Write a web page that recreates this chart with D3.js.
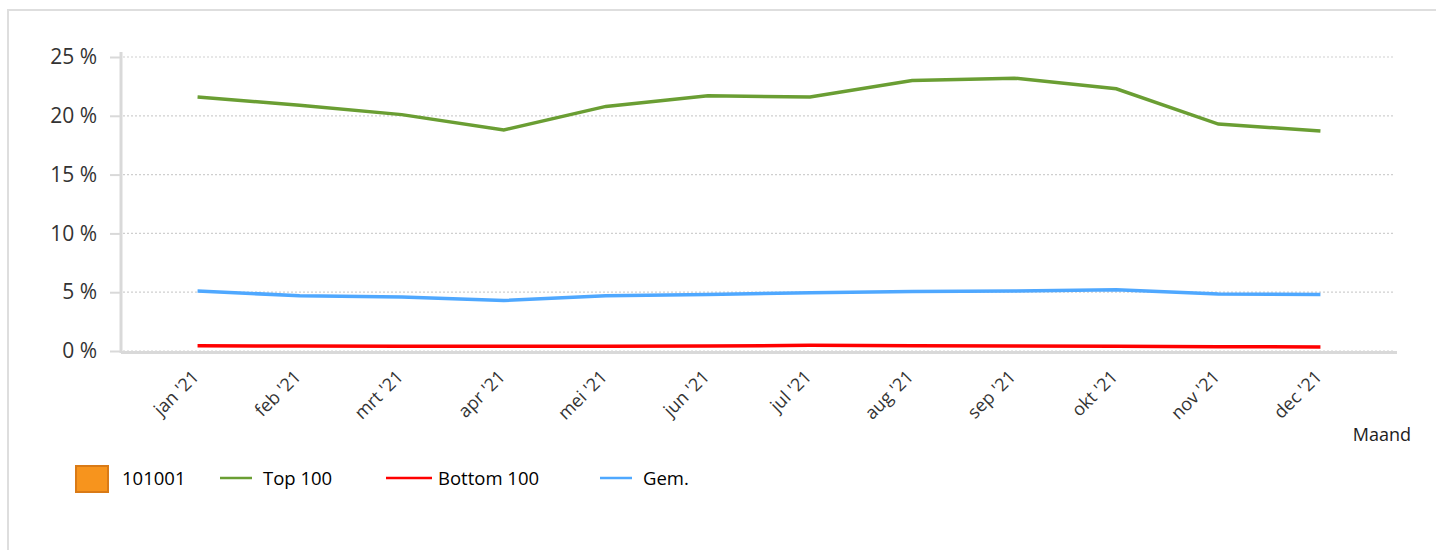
<!DOCTYPE html>
<html>
<head>
<meta charset="utf-8">
<script src="https://cdn.jsdelivr.net/npm/d3@7"></script>
<style>
  body { margin: 0; background: #fff; font-family: "Open Sans", sans-serif; }
  svg { display: block; }
</style>
</head>
<body>
<script>
const months = ["jan '21", "feb '21", "mrt '21", "apr '21", "mei '21", "jun '21",
  "jul '21", "aug '21", "sep '21", "okt '21", "nov '21", "dec '21"];
const top100 = [21.6, 20.9, 20.1, 18.8, 20.8, 21.7, 21.6, 23.0, 23.2, 22.3, 19.3, 18.7];
const bottom100 = [0.45, 0.42, 0.4, 0.4, 0.4, 0.42, 0.48, 0.45, 0.42, 0.4, 0.37, 0.35];
const gem = [5.1, 4.7, 4.6, 4.3, 4.7, 4.8, 4.95, 5.05, 5.1, 5.2, 4.85, 4.8];
const yTicks = [0, 5, 10, 15, 20, 25];

const series = [
  { name: "Top 100", values: top100, color: "#6a9e33" },
  { name: "Bottom 100", values: bottom100, color: "#ff0000" },
  { name: "Gem.", values: gem, color: "#4fa8ff" }
];

const W = 1436, H = 550;
const font = "'Open Sans', sans-serif";
const svg = d3.select("body").append("svg").attr("width", W).attr("height", H);

// panel frame
svg.append("line").attr("x1", 7).attr("x2", W).attr("y1", 10).attr("y2", 10)
  .attr("stroke", "#dedede").attr("stroke-width", 2);
svg.append("line").attr("x1", 8).attr("x2", 8).attr("y1", 10).attr("y2", H)
  .attr("stroke", "#dedede").attr("stroke-width", 2);

const x = d3.scalePoint().domain(months).range([121, 1397]).padding(0.75);
const y = d3.scaleLinear().domain([0, 25]).range([351, 57]);

// grid
svg.append("g").selectAll("line").data(yTicks).join("line")
  .attr("x1", 123).attr("x2", 1395)
  .attr("y1", d => y(d)).attr("y2", d => y(d))
  .attr("stroke", "#cfcfcf").attr("stroke-width", 1.2)
  .attr("stroke-dasharray", "2,2");

// y axis
const yAxis = svg.append("g").attr("transform", "translate(121,0)")
  .call(d3.axisLeft(y).tickValues(yTicks).tickSize(11).tickPadding(13)
    .tickFormat(d => d + " %"));
yAxis.select(".domain").remove();
yAxis.selectAll(".tick line").attr("stroke", "#d9d9d9").attr("stroke-width", 2);
yAxis.selectAll(".tick text").attr("fill", "#333").style("font-size", "21px")
  .style("font-family", font);
svg.append("line").attr("x1", 121).attr("x2", 121).attr("y1", 52).attr("y2", 353)
  .attr("stroke", "#d9d9d9").attr("stroke-width", 3);

// lines
const line = d3.line().x((d, i) => x(months[i])).y(d => y(d));
svg.append("g").selectAll("path").data(series).join("path")
  .attr("d", d => line(d.values))
  .attr("fill", "none").attr("stroke", d => d.color).attr("stroke-width", 3.5);

// x axis
svg.append("line").attr("x1", 121).attr("x2", 1397).attr("y1", 352.5).attr("y2", 352.5)
  .attr("stroke", "#d9d9d9").attr("stroke-width", 3);
const xAxis = svg.append("g").attr("transform", "translate(0,352)")
  .call(d3.axisBottom(x).tickSize(0));
xAxis.select(".domain").remove();
xAxis.selectAll(".tick text")
  .attr("fill", "#333").style("font-size", "18px")
  .style("font-family", font)
  .attr("text-anchor", "end")
  .attr("dy", null).attr("y", 0)
  .attr("transform", "translate(2,26) rotate(-45)");

svg.append("text").attr("x", 1411).attr("y", 441).attr("text-anchor", "end")
  .attr("fill", "#222").style("font-size", "18px").text("Maand");

// legend
const leg = svg.append("g").style("font-size", "18.5px").attr("fill", "#000");
leg.append("rect").attr("x", 76).attr("y", 466).attr("width", 32).attr("height", 26)
  .attr("fill", "#f7941d").attr("stroke", "#d97a16").attr("stroke-width", 2);
leg.append("text").attr("x", 122).attr("y", 485).text("101001");
const legX = [220, 386, 600];
const legTextX = [263, 438, 643];
series.forEach((s, i) => {
  leg.append("line").attr("x1", legX[i]).attr("x2", legX[i] + (i === 1 ? 46 : 32))
    .attr("y1", 478).attr("y2", 478).attr("stroke", s.color).attr("stroke-width", 2.5);
  leg.append("text").attr("x", legTextX[i]).attr("y", 485).text(s.name);
});
</script>
</body>
</html>
